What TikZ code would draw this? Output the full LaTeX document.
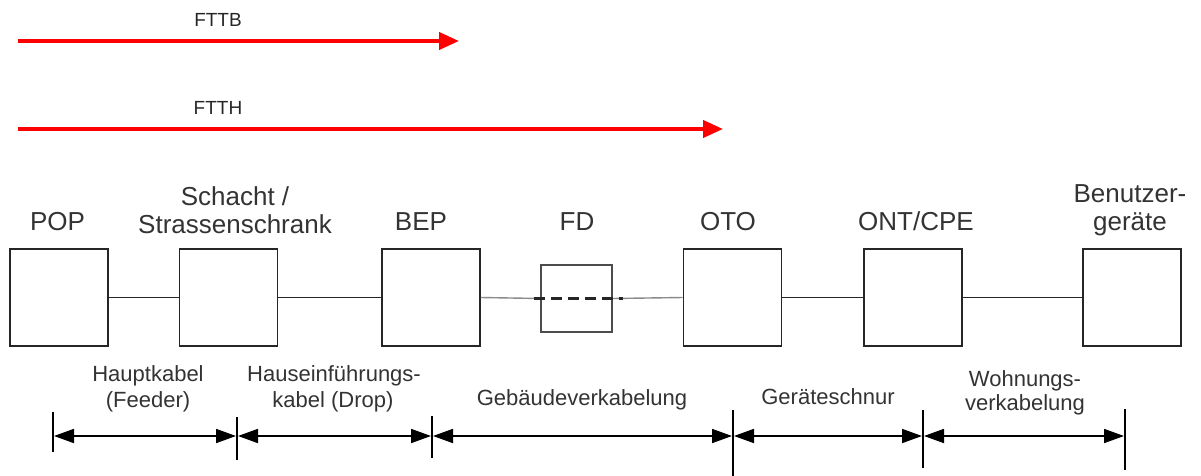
\documentclass[tikz,border=0pt]{standalone}
\usepackage{fontspec}
\setmainfont{Liberation Sans}
\usetikzlibrary{arrows.meta}
\definecolor{txt}{HTML}{333333}
\definecolor{thin}{HTML}{8A8A8A}
\begin{document}
\begin{tikzpicture}[x=1pt,y=-1pt,
  box/.style={draw=black!85,line width=1.8pt,minimum width=98pt,minimum height=97pt,inner sep=0pt,anchor=center},
  fdbox/.style={draw=black!70,line width=1.8pt,minimum width=71pt,minimum height=67pt,inner sep=0pt,anchor=center},
  lbl/.style={text=txt,font=\fontsize{26}{30}\selectfont,inner sep=0pt,anchor=base},
  slbl/.style={text=txt,font=\fontsize{22}{26}\selectfont,inner sep=0pt,anchor=base},
  tlbl/.style={text=black!85,font=\fontsize{19}{22}\selectfont,inner sep=0pt,anchor=base},
  link/.style={draw=black!85,line width=1.8pt},
  thinlink/.style={draw=thin,line width=1.4pt},
  fib/.style={draw=red,line width=4pt,-{Triangle[length=20pt,width=17pt]}},
  tickline/.style={draw=black,line width=1.8pt},
  dim/.style={draw=black,line width=1.8pt,{Triangle[length=20pt,width=14pt]}-{Triangle[length=20pt,width=14pt]}}
]
\useasboundingbox (0,0) rectangle (1201,476);

% top arrows
\node[tlbl] (fttb) at (218,27) {FTTB};
\coordinate (fttbS) at (18,41);
\coordinate (fttbE) at (459,41);
\draw[fib] (fttbS) -- (fttbE);
\node[tlbl] (ftth) at (218,115) {FTTH};
\coordinate (ftthS) at (18,129);
\coordinate (ftthE) at (723,129);
\draw[fib] (ftthS) -- (ftthE);

% boxes
\node[box] (pop) at (59,297.5) {};
\node[box] (scha) at (228.5,297.5) {};
\node[box] (bep) at (431,297.5) {};
\node[fdbox] (fd) at (576.5,298.5) {};
\node[box] (oto) at (732.5,297.5) {};
\node[box] (ont) at (913,297.5) {};
\node[box] (ben) at (1132,297.5) {};

% box labels
\node[lbl] (lpop) at (57.5,230) {POP};
\node[lbl] (lschA) at (235,205) {Schacht /};
\node[lbl] (lschB) at (235,233) {Strassenschrank};
\node[lbl] (lbep) at (421,230) {BEP};
\node[lbl] (lfd) at (577,230) {FD};
\node[lbl] (loto) at (728,230) {OTO};
\node[lbl] (lont) at (916,230) {ONT/CPE};
\node[lbl] (lbenA) at (1130,202) {Benutzer-};
\node[lbl] (lbenB) at (1130,230) {geräte};

% connectors
\draw[link] (pop.east) -- (scha.west);
\draw[link] (scha.east) -- (bep.west);
\draw[thinlink] (bep.east) -- (fd.west);
\draw[thinlink] (fd.east) -- (oto.west);
\draw[black!85,line width=3pt,dash pattern=on 11pt off 6pt,dash phase=-4pt] ([xshift=-10pt,yshift=0.5pt]fd.west) -- ([xshift=10pt,yshift=0.5pt]fd.east);
\draw[link] (oto.east) -- (ont.west);
\draw[link] (ont.east) -- (ben.west);

% ticks
\coordinate (t1a) at (53,412);  \coordinate (t1b) at (53,452);  \coordinate (t1) at (53,436);
\coordinate (t2a) at (237,417); \coordinate (t2b) at (237,460); \coordinate (t2) at (237,436);
\coordinate (t3a) at (432,416); \coordinate (t3b) at (432,458); \coordinate (t3) at (432,436);
\coordinate (t4a) at (733,410); \coordinate (t4b) at (733,476); \coordinate (t4) at (733,436);
\coordinate (t5a) at (923,410); \coordinate (t5b) at (923,468); \coordinate (t5) at (923,436);
\coordinate (t6a) at (1125,409); \coordinate (t6b) at (1125,470); \coordinate (t6) at (1125,436);
\foreach \i in {1,...,6} {\draw[tickline] (t\i a) -- (t\i b);}

\draw[dim] ([xshift=1pt]t1) -- ([xshift=-1pt]t2);
\draw[dim] ([xshift=1pt]t2) -- ([xshift=-1pt]t3);
\draw[dim] ([xshift=1pt]t3) -- ([xshift=-1pt]t4);
\draw[dim] ([xshift=1pt]t4) -- ([xshift=-1pt]t5);
\draw[dim] ([xshift=1pt]t5) -- ([xshift=-1pt]t6);

% segment labels
\node[slbl] (s1a) at (148,381) {Hauptkabel};
\node[slbl] (s1b) at (148,407) {(Feeder)};
\node[slbl] (s2a) at (334,381) {Hauseinführungs-};
\node[slbl] (s2b) at (333,407) {kabel (Drop)};
\node[slbl] (s3) at (582,405) {Gebäudeverkabelung};
\node[slbl] (s4) at (828,404) {Geräteschnur};
\node[slbl] (s5a) at (1025,386) {Wohnungs-};
\node[slbl] (s5b) at (1025,410) {verkabelung};
\end{tikzpicture}
\end{document}
